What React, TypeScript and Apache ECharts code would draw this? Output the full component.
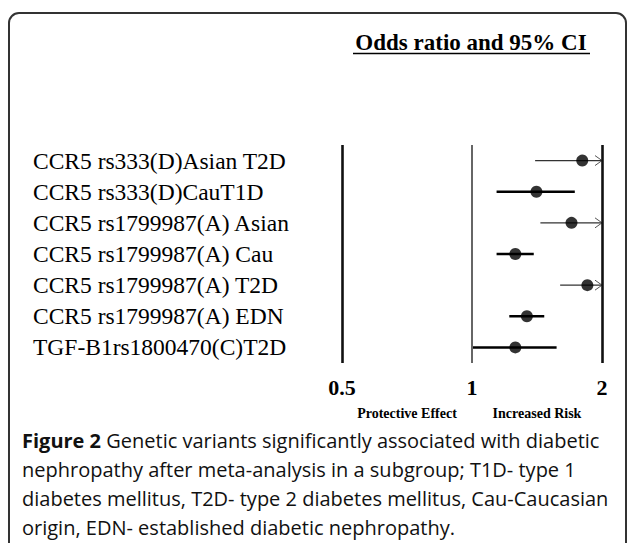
import React, { useEffect, useRef } from "react";
import * as echarts from "echarts";

const categories = [
  "CCR5 rs333(D)Asian T2D",
  "CCR5 rs333(D)CauT1D",
  "CCR5 rs1799987(A) Asian",
  "CCR5 rs1799987(A) Cau",
  "CCR5 rs1799987(A) T2D",
  "CCR5 rs1799987(A) EDN",
  "TGF-B1rs1800470(C)T2D",
];
const oddsRatio = [1.8, 1.41, 1.7, 1.26, 1.85, 1.34, 1.26];
const ciLow = [1.4, 1.14, 1.44, 1.14, 1.6, 1.22, 1.0];
const ciHigh = [2.3, 1.73, 2.25, 1.39, 2.2, 1.47, 1.57];
const xTicks = [0.5, 1, 2];
const effectLabels = ["Protective Effect", "Increased Risk"];
const titleText = "Odds ratio and 95% CI";
const captionBold = "Figure 2";
const captionLines = [
  " Genetic variants significantly associated with diabetic",
  "nephropathy after meta-analysis in a subgroup; T1D- type 1",
  "diabetes mellitus, T2D- type 2 diabetes mellitus, Cau-Caucasian",
  "origin, EDN- established diabetic nephropathy.",
];

const SERIF = "'Liberation Serif', 'Times New Roman', serif";
const SANS = "'Open Sans', 'Noto Sans', sans-serif";

export default function App() {
  const ref = useRef<HTMLDivElement>(null);
  useEffect(() => {
    if (!ref.current) return;
    const chart = echarts.init(ref.current, null, { renderer: "svg" });
    const xMin = xTicks[0];
    const xMax = xTicks[xTicks.length - 1];
    const ciData = categories.map((_, i) => [ciLow[i], ciHigh[i], i]);
    const ptData = categories.map((_, i) => [oddsRatio[i], i]);

    const option: any = {
      animation: false,
      backgroundColor: "#fff",
      grid: { left: 342, width: 260, top: 145, height: 218 },
      xAxis: {
        type: "log",
        logBase: 2,
        min: xMin,
        max: xMax,
        axisLine: { show: false },
        axisTick: { show: false },
        splitLine: { show: false },
        axisLabel: {
          margin: 13,
          fontSize: 22,
          fontWeight: "bold",
          fontFamily: SERIF,
          color: "#000",
          showMinLabel: true,
          showMaxLabel: true,
          formatter: (v: number) => String(Math.round(v * 10) / 10),
        },
      },
      yAxis: {
        type: "category",
        data: categories,
        inverse: true,
        axisLine: { show: false },
        axisTick: { show: false },
        splitLine: { show: false },
        axisLabel: {
          interval: 0,
          hideOverlap: false,
          margin: 309,
          align: "left",
          fontSize: 23.5,
          fontFamily: SERIF,
          color: "#000",
        },
      },
      series: [
        {
          type: "custom",
          data: ciData,
          encode: { x: [0, 1], y: 2 },
          z: 3,
          renderItem: (params: any, api: any) => {
            const lo = api.value(0);
            const hi = api.value(1);
            const idx = api.value(2);
            const p1 = api.coord([Math.max(lo, xMin), idx]);
            const clipped = hi > xMax;
            const p2 = api.coord([Math.min(hi, xMax), idx]);
            const children: any[] = [
              {
                type: "line",
                shape: { x1: p1[0], y1: p1[1], x2: p2[0], y2: p2[1] },
                style: { stroke: clipped ? "#333" : "#000", lineWidth: clipped ? 1.3 : 2.6 },
              },
            ];
            if (clipped) {
              children.push({
                type: "polyline",
                shape: { points: [[p2[0] - 7, p2[1] - 5], [p2[0], p2[1]], [p2[0] - 7, p2[1] + 5]] },
                style: { stroke: "#555", lineWidth: 1, fill: "none" },
              });
            }
            return { type: "group", children };
          },
        },
        {
          type: "scatter",
          data: ptData,
          symbol: "circle",
          symbolSize: 12,
          itemStyle: { color: "#000" },
          z: 4,
          markLine: {
            silent: true,
            symbol: ["none", "none"],
            label: { show: false },
            data: xTicks.map((t, i) => ({
              xAxis: t,
              lineStyle: {
                type: "solid",
                color: i === 1 ? "#666" : "#111",
                width: i === 1 ? 2 : 2.6,
              },
            })),
          },
        },
      ],
      graphic: [
        {
          type: "rect",
          shape: { x: 9, y: 13, width: 617, height: 580, r: 10 },
          style: { fill: "none", stroke: "#333", lineWidth: 2 },
          z: 0,
        },
        {
          type: "text",
          x: 471,
          y: 42,
          style: {
            text: titleText,
            font: `bold 23px ${SERIF}`,
            fill: "#000",
            textAlign: "center",
            textVerticalAlign: "middle",
          },
        },
        {
          type: "line",
          shape: { x1: 353, y1: 53.5, x2: 590, y2: 53.5 },
          style: { stroke: "#000", lineWidth: 1.5 },
        },
        {
          type: "text",
          x: 407,
          y: 413,
          style: {
            text: effectLabels[0],
            font: `bold 14px ${SERIF}`,
            fill: "#000",
            textAlign: "center",
            textVerticalAlign: "middle",
          },
        },
        {
          type: "text",
          x: 537,
          y: 413,
          style: {
            text: effectLabels[1],
            font: `bold 14px ${SERIF}`,
            fill: "#000",
            textAlign: "center",
            textVerticalAlign: "middle",
          },
        },
        {
          type: "text",
          x: 22,
          y: 426,
          style: {
            text: `{b|${captionBold}}${captionLines.join("\n")}`,
            fontFamily: SANS,
            fontSize: 20,
            lineHeight: 29,
            fill: "#111",
            textAlign: "left",
            textVerticalAlign: "top",
            rich: {
              b: { fontFamily: SANS, fontSize: 20, fontWeight: "bold", lineHeight: 29, fill: "#111" },
            },
          },
        },
      ],
    };
    chart.setOption(option);
    return () => chart.dispose();
  }, []);
  return (
    <div
      ref={ref}
      style={{ position: "fixed", left: 0, top: 0, width: 627, height: 543, background: "#fff" }}
    />
  );
}
